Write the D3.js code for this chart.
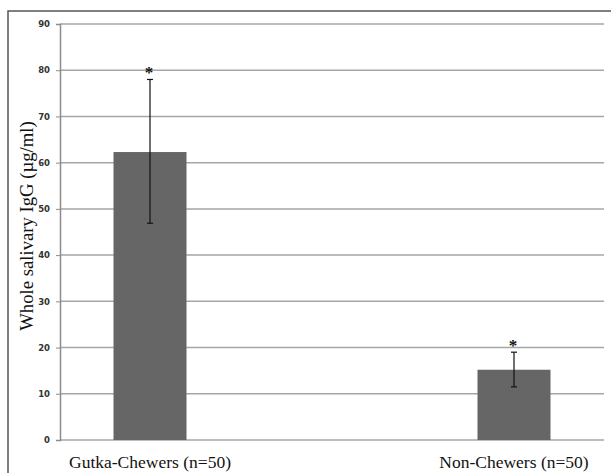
<!DOCTYPE html>
<html>
<head>
<meta charset="utf-8">
<script src="https://cdn.jsdelivr.net/npm/d3@7"></script>
<style>
  body { margin: 0; background: #fff; }
</style>
</head>
<body>
<div id="visual"></div>
<script>
let categories = ["Gutka-Chewers (n=50)", "Non-Chewers (n=50)"]
let means = [62.3, 15.2]
let upper = [78.0, 19.0]
let lower = [46.9, 11.5]
let marks = ["*", "*"]
let yTicks = [0, 10, 20, 30, 40, 50, 60, 70, 80, 90]

let W = 611, H = 473

var svg = d3.select("#visual")
    .append("svg")
    .attr("width", W)
    .attr("height", H)

// outer frame (cut off at right and bottom like the figure)
svg.append("rect")
    .attr("x", 8).attr("y", 11)
    .attr("width", 640).attr("height", 500)
    .attr("fill", "none")
    .attr("stroke", "#555")
    .attr("stroke-width", 1.5)

let yScale = d3.scaleLinear()
    .domain([0, 90])
    .range([440, 24])

let xScale = d3.scalePoint()
    .domain(categories)
    .range([150, 514])

let plotLeft = 60, plotRight = 604
let barWidth = 73

// gridlines
svg.selectAll(".grid")
    .data(yTicks)
    .enter()
    .append("line")
    .attr("x1", plotLeft)
    .attr("x2", plotRight)
    .attr("y1", d => yScale(d))
    .attr("y2", d => yScale(d))
    .attr("stroke", "#a6a6a6")
    .attr("stroke-width", 1.5)

// y axis
let yAxis = d3.axisLeft(yScale)
    .tickValues(yTicks)
    .tickSize(4)
    .tickPadding(6)

let gy = svg.append("g")
    .attr("transform", "translate(" + plotLeft + ",0)")
    .call(yAxis)
gy.select(".domain").attr("stroke", "#8c8c8c").attr("stroke-width", 1.5)
gy.selectAll(".tick line").attr("stroke", "#8c8c8c")
gy.selectAll(".tick text")
    .attr("font-family", "DejaVu Sans, sans-serif")
    .attr("font-size", 8.5)
    .attr("font-weight", "bold")
    .attr("fill", "#333")

// bars
svg.selectAll(".bar")
    .data(categories)
    .enter()
    .append("rect")
    .attr("x", d => xScale(d) - barWidth / 2)
    .attr("width", barWidth)
    .attr("y", (d, i) => yScale(means[i]))
    .attr("height", (d, i) => yScale(0) - yScale(means[i]))
    .attr("fill", "#666666")

// error bars
let err = svg.selectAll(".err")
    .data(categories)
    .enter()
    .append("g")
err.append("line")
    .attr("x1", d => xScale(d)).attr("x2", d => xScale(d))
    .attr("y1", (d, i) => yScale(upper[i]))
    .attr("y2", (d, i) => yScale(lower[i]))
    .attr("stroke", "#111")
    .attr("stroke-width", 1.2)
err.append("line")
    .attr("x1", d => xScale(d) - 3).attr("x2", d => xScale(d) + 3)
    .attr("y1", (d, i) => yScale(upper[i]))
    .attr("y2", (d, i) => yScale(upper[i]))
    .attr("stroke", "#111")
    .attr("stroke-width", 1.2)
err.append("line")
    .attr("x1", d => xScale(d) - 3).attr("x2", d => xScale(d) + 3)
    .attr("y1", (d, i) => yScale(lower[i]))
    .attr("y2", (d, i) => yScale(lower[i]))
    .attr("stroke", "#111")
    .attr("stroke-width", 1.2)

// asterisks
svg.selectAll(".star")
    .data(categories)
    .enter()
    .append("text")
    .attr("x", d => xScale(d) - 1)
    .attr("y", (d, i) => yScale(upper[i]) - 1)
    .attr("text-anchor", "middle")
    .attr("font-family", "Liberation Serif, serif")
    .attr("font-size", 17)
    .attr("font-weight", "bold")
    .attr("fill", "#111")
    .text((d, i) => marks[i])

// category labels
svg.selectAll(".xlab")
    .data(categories)
    .enter()
    .append("text")
    .attr("x", d => xScale(d))
    .attr("y", 468)
    .attr("text-anchor", "middle")
    .attr("font-family", "Liberation Serif, serif")
    .attr("font-size", 17.5)
    .attr("fill", "#111")
    .text(d => d)

// y title
svg.append("text")
    .attr("transform", "translate(33,226) rotate(-90)")
    .attr("text-anchor", "middle")
    .attr("font-family", "Liberation Serif, serif")
    .attr("font-size", 18.7)
    .attr("fill", "#111")
    .text("Whole salivary IgG (\u00b5g/ml)")
</script>
</body>
</html>
